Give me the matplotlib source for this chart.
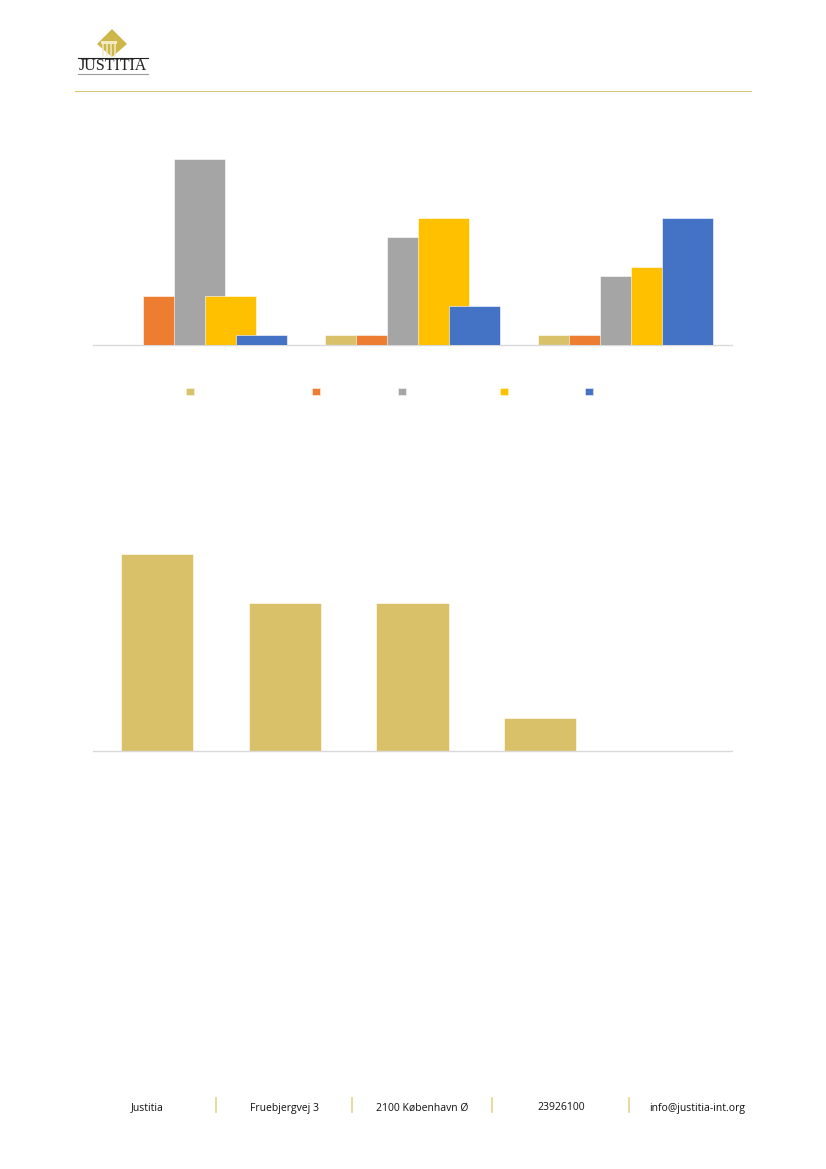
#!/usr/bin/env python3
"""Justitia report page: two bar charts with letterhead and footer."""

import matplotlib

matplotlib.use("Agg")
import matplotlib.pyplot as plt
from matplotlib.patches import Polygon, Rectangle
from matplotlib.lines import Line2D
import numpy as np

W, H = 826, 1169

# chart 1: grouped bars, 3 groups x 5 series
GROUPS = ["", "", ""]
SERIES_COLORS = ["#D9C16A", "#ED7D31", "#A5A5A5", "#FFC000", "#4472C4"]
SERIES_VALUES = [
    [0, 1, 1],
    [5, 1, 1],
    [19, 11, 7],
    [5, 13, 8],
    [1, 4, 13],
]
LEGEND_X = [190, 316, 402, 504, 589]

# chart 2: single series, 5 categories
CATS = ["", "", "", "", ""]
CAT_VALUES = [12, 9, 9, 2, 0]
CAT_COLOR = "#D9C16A"

FOOTER = ["Justitia", "Fruebjergvej 3", "2100 København Ø", "23926100", "info@justitia-int.org"]
FOOTER_X = [147, 285, 422, 561, 697]
FOOTER_SEP_X = [216, 352, 492, 629]

GOLD = "#D5C46E"
AXIS_GREY = "#D9D9D9"


def px_axes(fig, left, top, right, bottom):
    return fig.add_axes([left / W, 1 - bottom / H, (right - left) / W, (bottom - top) / H])


def style_axes(ax):
    for side in ("top", "right", "left"):
        ax.spines[side].set_visible(False)
    ax.spines["bottom"].set_color(AXIS_GREY)
    ax.spines["bottom"].set_linewidth(1.0)
    ax.set_yticks([])
    ax.tick_params(axis="x", length=0)


fig = plt.figure(figsize=(W / 100, H / 100), dpi=100)
fig.patch.set_facecolor("white")

# --- letterhead -------------------------------------------------------------
over = fig.add_axes([0, 0, 1, 1])
over.set_xlim(0, W)
over.set_ylim(H, 0)
over.axis("off")

diamond = Polygon([[112, 29], [127, 44], [112, 57], [97, 44]], closed=True,
                  facecolor="#CDB74A", edgecolor="none")
over.add_patch(diamond)
over.add_patch(Rectangle((101, 41), 16, 2.5, facecolor="#F3EBC4", edgecolor="none"))
for cx in (103, 107, 111, 115):
    over.add_line(Line2D([cx, cx], [44, 56], color="#F3EBC4", linewidth=1.1))
over.add_line(Line2D([78, 148], [58, 58], color="#222222", linewidth=0.8))
over.text(113, 66.5, "JUSTITIA", ha="center", va="center", fontsize=11.5,
          family="Liberation Serif", color="#222222")
over.add_line(Line2D([78, 148], [74, 74], color="#9A9A9A", linewidth=0.8))
over.add_line(Line2D([75, 751], [91, 91], color=GOLD, linewidth=0.7))

# --- footer -----------------------------------------------------------------
for x, label in zip(FOOTER_X, FOOTER):
    over.text(x, 1110.5, label, ha="center", va="baseline", fontsize=7.5,
              family="Open Sans", color="#111111")
for x in FOOTER_SEP_X:
    over.add_line(Line2D([x, x], [1098, 1112], color="#E3D48C", linewidth=1.2))

# --- chart 1 ----------------------------------------------------------------
ax1 = px_axes(fig, 93, 149, 732, 345)
bar_w = 0.243
step = 0.1455
x = np.arange(len(GROUPS))
handles = []
for j, (vals, color) in enumerate(zip(SERIES_VALUES, SERIES_COLORS)):
    b = ax1.bar(x + (j - 2) * step, vals, width=bar_w, color=color,
                edgecolor="white", linewidth=0.4, zorder=2 + j)
    handles.append(b)
ax1.set_xlim(-0.5, len(GROUPS) - 0.5)
ax1.set_ylim(0, 20)
ax1.set_xticks(x)
ax1.set_xticklabels(GROUPS)
style_axes(ax1)
# legend entries carry no visible label text in the source; one legend per key
for h, lx in zip(handles, LEGEND_X):
    leg = fig.legend([h], [""], frameon=False, loc="center",
                     bbox_to_anchor=(lx / W, 1 - 392 / H),
                     handlelength=0.62, handleheight=0.5,
                     handletextpad=0.0, borderpad=0.0, fontsize=9)
    fig.add_artist(leg)

# --- chart 2 ----------------------------------------------------------------
ax2 = px_axes(fig, 93, 521, 732, 751)
x2 = np.arange(len(CATS))
ax2.bar(x2, CAT_VALUES, width=0.565, color=CAT_COLOR, edgecolor="white", linewidth=0.4)
ax2.set_xlim(-0.5, len(CATS) - 0.5)
ax2.set_ylim(0, 14)
ax2.set_xticks(x2)
ax2.set_xticklabels(CATS)
style_axes(ax2)

fig.savefig("out.png", dpi=100)
